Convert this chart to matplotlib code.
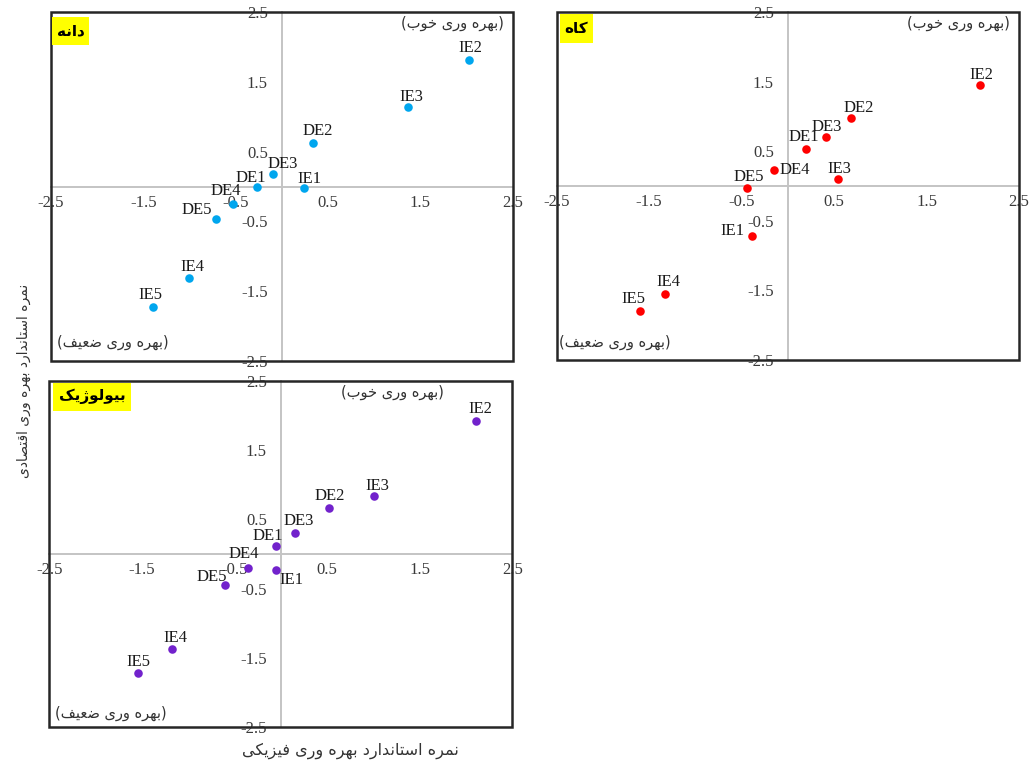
import matplotlib
matplotlib.use("Agg")
import matplotlib.pyplot as plt
from matplotlib.patches import Rectangle

# ---------------- Data ----------------
point_labels = ["DE1", "DE2", "DE3", "DE4", "DE5", "IE1", "IE2", "IE3", "IE4", "IE5"]

grain_x = [-0.27, 0.34, -0.09, -0.53, -0.71, 0.24, 2.03, 1.37, -1.00, -1.40]
grain_y = [-0.01, 0.62, 0.18, -0.25, -0.46, -0.02, 1.81, 1.14, -1.31, -1.72]

straw_x = [0.20, 0.68, 0.41, -0.15, -0.44, -0.39, 2.08, 0.54, -1.33, -1.60]
straw_y = [0.53, 0.97, 0.71, 0.23, -0.03, -0.72, 1.45, 0.10, -1.55, -1.79]

bio_x = [-0.05, 0.52, 0.15, -0.35, -0.60, -0.05, 2.11, 1.01, -1.18, -1.54]
bio_y = [0.11, 0.67, 0.30, -0.20, -0.44, -0.23, 1.92, 0.83, -1.37, -1.71]

tick_values = [-2.5, -1.5, -0.5, 0.5, 1.5, 2.5]
tick_labels = ["-2.5", "-1.5", "-0.5", "0.5", "1.5", "2.5"]

title_grain = "دانه"
title_straw = "کاه"
title_bio = "بیولوژیک"
good_text = "(بهره وری خوب)"
weak_text = "(بهره وری ضعیف)"
xlabel_text = "نمره استاندارد بهره وری فیزیکی"
ylabel_text = "نمره استاندارد بهره وری اقتصادی"

# ---------------- Persian shaping (presentation forms + visual order) ----------------
FORMS = {
    # char: (isolated, final, initial, medial); None => joins only to the right
    "ا": ("\uFE8D", "\uFE8E", None, None),
    "ب": ("\uFE8F", "\uFE90", "\uFE91", "\uFE92"),
    "ت": ("\uFE95", "\uFE96", "\uFE97", "\uFE98"),
    "خ": ("\uFEA5", "\uFEA6", "\uFEA7", "\uFEA8"),
    "د": ("\uFEA9", "\uFEAA", None, None),
    "ر": ("\uFEAD", "\uFEAE", None, None),
    "ز": ("\uFEAF", "\uFEB0", None, None),
    "ژ": ("\uFB8A", "\uFB8B", None, None),
    "س": ("\uFEB1", "\uFEB2", "\uFEB3", "\uFEB4"),
    "ص": ("\uFEB9", "\uFEBA", "\uFEBB", "\uFEBC"),
    "ض": ("\uFEBD", "\uFEBE", "\uFEBF", "\uFEC0"),
    "ع": ("\uFEC9", "\uFECA", "\uFECB", "\uFECC"),
    "ف": ("\uFED1", "\uFED2", "\uFED3", "\uFED4"),
    "ق": ("\uFED5", "\uFED6", "\uFED7", "\uFED8"),
    "ک": ("\uFB8E", "\uFB8F", "\uFB90", "\uFB91"),
    "ل": ("\uFEDD", "\uFEDE", "\uFEDF", "\uFEE0"),
    "م": ("\uFEE1", "\uFEE2", "\uFEE3", "\uFEE4"),
    "ن": ("\uFEE5", "\uFEE6", "\uFEE7", "\uFEE8"),
    "ه": ("\uFEE9", "\uFEEA", "\uFEEB", "\uFEEC"),
    "و": ("\uFEED", "\uFEEE", None, None),
    "ی": ("\uFBFC", "\uFBFD", "\uFBFE", "\uFBFF"),
}


def shape_fa(text):
    out = []
    n = len(text)
    for i, c in enumerate(text):
        if c not in FORMS:
            out.append(c)
            continue
        f = FORMS[c]
        prev_join = i > 0 and text[i - 1] in FORMS and FORMS[text[i - 1]][2] is not None
        next_join = f[2] is not None and i + 1 < n and text[i + 1] in FORMS
        if prev_join and next_join:
            out.append(f[3])
        elif prev_join:
            out.append(f[1])
        elif next_join:
            out.append(f[2])
        else:
            out.append(f[0])
    vis = "".join(reversed(out))
    return vis.translate(str.maketrans({"(": ")", ")": "("}))


FA_FONT = "DejaVu Sans"
SERIF = "Liberation Serif"
W, H = 1030, 762

# label offsets (pixels) per panel -- style only
grain_off = {"DE1": (-6, 9), "DE2": (5, 12), "DE3": (9, 10), "DE4": (-7, 13), "DE5": (-19, 9),
             "IE1": (5, 9), "IE2": (1, 12), "IE3": (3, 10), "IE4": (3, 11), "IE5": (-2, 12)}
straw_off = {"DE1": (-3, 12), "DE2": (8, 10), "DE3": (1, 10), "DE4": (21, 0), "DE5": (2, 11),
             "IE1": (-19, 5), "IE2": (1, 10), "IE3": (2, 10), "IE4": (4, 12), "IE5": (-7, 12)}
bio_off = {"DE1": (-8, 10), "DE2": (1, 12), "DE3": (4, 12), "DE4": (-5, 14), "DE5": (-13, 8),
           "IE1": (15, -10), "IE2": (4, 12), "IE3": (3, 10), "IE4": (4, 11), "IE5": (0, 11)}

fig = plt.figure(figsize=(W / 100, H / 100), dpi=100)


def make_panel(px_box, xs, ys, color, title, offsets, good_xy, weak_xy, title_box):
    l, t, r, b = px_box
    aw, ah = r - l, b - t
    ax = fig.add_axes([l / W, 1 - b / H, aw / W, ah / H])
    ax.set_xlim(-2.5, 2.5)
    ax.set_ylim(-2.5, 2.5)
    ax.spines["top"].set_visible(False)
    ax.spines["right"].set_visible(False)
    for s in ("left", "bottom"):
        ax.spines[s].set_position("zero")
        ax.spines[s].set_color("#c4c4c4")
        ax.spines[s].set_linewidth(1.4)
        ax.spines[s].set_zorder(1)
    ax.set_xticks(tick_values)
    ax.set_xticklabels(tick_labels)
    ax.set_yticks(tick_values)
    ax.set_yticklabels(tick_labels)
    ax.tick_params(axis="both", length=0, labelsize=12, labelcolor="#3a3a3a")
    ax.tick_params(axis="x", pad=6)
    ax.tick_params(axis="y", pad=10)
    for lab in ax.get_xticklabels() + ax.get_yticklabels():
        lab.set_fontfamily(SERIF)
    ax.add_patch(Rectangle((0, 0), 1, 1, transform=ax.transAxes, fill=False,
                           ec="#262626", lw=1.8, zorder=5, clip_on=False))
    ax.scatter(xs, ys, s=38, color=color, zorder=4, linewidths=0)
    for lab, x, y in zip(point_labels, xs, ys):
        dx, dy = offsets[lab]
        ax.annotate(lab, (x, y), xytext=(dx, dy), textcoords="offset pixels",
                    ha="center", va="center", fontsize=12, family=SERIF,
                    color="#1a1a1a", zorder=6)
    # title box (pixel geometry: inset-left, inset-top, width, height)
    bx, by, bw, bh = title_box
    ax.add_patch(Rectangle((bx / aw, 1 - (by + bh) / ah), bw / aw, bh / ah,
                           transform=ax.transAxes, fc="#ffff00", ec="none", zorder=7))
    ax.text((bx + bw / 2) / aw, 1 - (by + bh / 2) / ah, shape_fa(title),
            transform=ax.transAxes, ha="center", va="center", fontsize=11,
            fontweight="bold", family=FA_FONT, color="black", zorder=8)
    ax.text(good_xy[0], good_xy[1], shape_fa(good_text), transform=ax.transAxes,
            ha="right", va="center", fontsize=10.5, family=FA_FONT, color="#333333")
    ax.text(weak_xy[0], weak_xy[1], shape_fa(weak_text), transform=ax.transAxes,
            ha="left", va="center", fontsize=10.5, family=FA_FONT, color="#333333")
    return ax


ax1 = make_panel((51, 12, 512.5, 361), grain_x, grain_y, "#00a6ee",
                 title_grain, grain_off, (0.982, 0.966), (0.012, 0.054), (1, 5, 37, 28))
ax2 = make_panel((556.7, 12, 1019, 360), straw_x, straw_y, "#ff0000",
                 title_straw, straw_off, (0.98, 0.966), (0.004, 0.05), (3, 2, 33, 29))
ax3 = make_panel((49.3, 380.7, 512.3, 727.3), bio_x, bio_y, "#7222cc",
                 title_bio, bio_off, (0.853, 0.966), (0.012, 0.041), (4, 2, 78, 28))

fig.text(350 / W, 1 - 751 / H, shape_fa(xlabel_text), ha="center", va="center",
         fontsize=11.5, family=FA_FONT, color="#333333")
fig.text(24 / W, 1 - 381 / H, shape_fa(ylabel_text), ha="center", va="center",
         rotation=90, fontsize=10, family=FA_FONT, color="#333333")

fig.savefig("out.png", dpi=100)
